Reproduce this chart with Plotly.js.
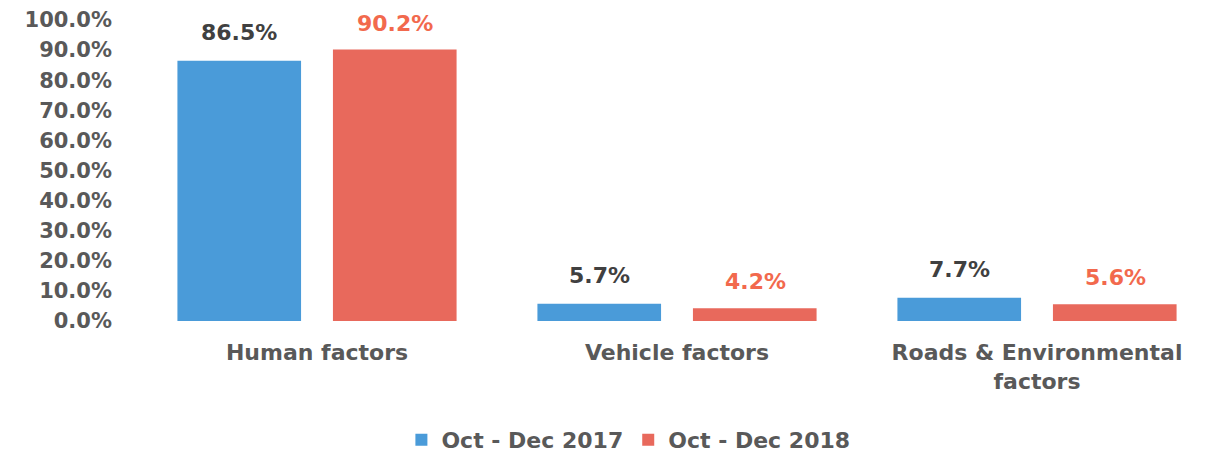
<!DOCTYPE html>
<html>
<head>
<meta charset="utf-8">
<script src="https://cdn.plot.ly/plotly-3.0.1.min.js"></script>
<style>
  body { margin: 0; background: #fff; }
  #plot { width: 1217px; height: 457px; }
</style>
</head>
<body>
<div id="plot"></div>
<script>
// Share of road accidents by cause
const categories = ["Human factors", "Vehicle factors", "Roads & Environmental<br>factors"];
const series2017 = [86.5, 5.7, 7.7];
const series2018 = [90.2, 4.2, 5.6];
const seriesNames = ["Oct - Dec 2017", "Oct - Dec 2018"];
const yTicks = [0, 10, 20, 30, 40, 50, 60, 70, 80, 90, 100];

const blue = "#4a9bd9";
const red = "#e8695c";
const labelFont = "DejaVu Sans, Verdana, sans-serif";

const data = [
    {
        type: "bar",
        name: seriesNames[0],
        x: categories,
        y: series2017,
        marker: { color: blue },
        hoverinfo: "skip"
    },
    {
        type: "bar",
        name: seriesNames[1],
        x: categories,
        y: series2018,
        marker: { color: red },
        hoverinfo: "skip"
    }
];

// value labels above each bar
const annotations = [];
categories.forEach((c, i) => {
    annotations.push({
        x: c, y: series2017[i], xref: "x", yref: "y",
        text: series2017[i].toFixed(1) + "%",
        showarrow: false, yanchor: "bottom", xshift: -78, yshift: 14,
        font: { family: labelFont, size: 22, color: "#404040", weight: "bold" }
    });
    annotations.push({
        x: c, y: series2018[i], xref: "x", yref: "y",
        text: series2018[i].toFixed(1) + "%",
        showarrow: false, yanchor: "bottom", xshift: 78, yshift: 12,
        font: { family: labelFont, size: 22, color: "#f2694d", weight: "bold" }
    });
});

const layout = {
    width: 1217,
    height: 457,
    margin: { l: 137, r: 0, t: 20, b: 136, autoexpand: false },
    paper_bgcolor: "#fff",
    plot_bgcolor: "#fff",
    barmode: "group",
    bargap: 0.136,
    bargroupgap: 0.205,
    font: { family: labelFont, size: 22, color: "#595959", weight: "bold" },
    xaxis: {
        showgrid: false,
        showline: false,
        zeroline: false,
        ticks: "",
        automargin: false,
        ticklabelstandoff: 16,
        tickfont: { family: labelFont, size: 22, color: "#595959", weight: "bold" }
    },
    yaxis: {
        range: [0, 100],
        tickvals: yTicks,
        ticktext: yTicks.map(v => v.toFixed(1) + "%"),
        showgrid: false,
        showline: false,
        zeroline: false,
        ticks: "",
        automargin: false,
        ticklabelstandoff: 24,
        tickfont: { family: labelFont, size: 21, color: "#595959", weight: "bold" }
    },
    showlegend: true,
    legend: {
        orientation: "h",
        x: 0.455,
        xanchor: "center",
        y: -0.395,
        yanchor: "middle",
        font: { family: labelFont, size: 22, color: "#595959", weight: "bold" },
        itemwidth: 30,
        tracegroupgap: 0
    },
    annotations: annotations
};

Plotly.newPlot("plot", data, layout, { displayModeBar: false, staticPlot: true });
</script>
</body>
</html>
